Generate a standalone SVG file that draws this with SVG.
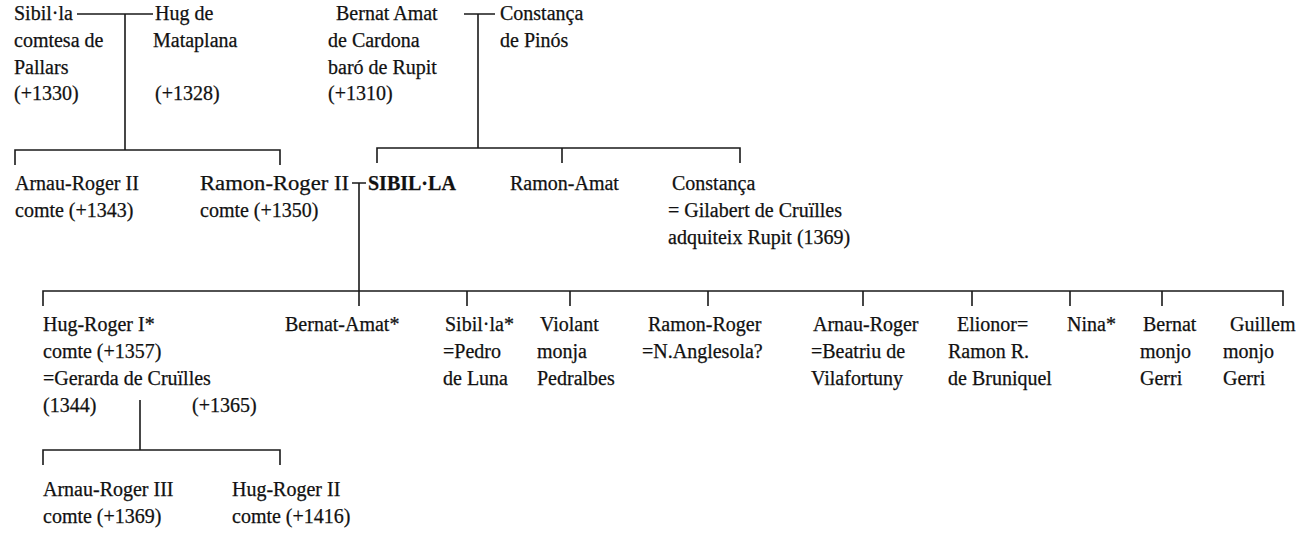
<svg xmlns="http://www.w3.org/2000/svg" width="1307" height="545" viewBox="0 0 1307 545">
<style>
text{font-family:"Liberation Serif","Times New Roman",serif;font-size:20px;fill:#111;stroke:#111;stroke-width:0.25}
.b{font-weight:bold}
.c path{stroke:#1a1a1a;stroke-width:1.6;fill:none}
</style>
<rect width="1307" height="545" fill="#fff"/>
<g class="c" id="connectors">
<path d="M77 14H153M125 14V150M15 165V150H280V165"/>
<path d="M464 14H495M478 14V148M377 163V148H740V163M562 148V163"/>
<path d="M352 183H366M359 183V306M43 306V291H1283V306M467 291V306M570 291V306M708 291V306M863 291V306M972 291V306M1070 291V306M1162 291V306M1283 291V306"/>
<path d="M140 400V450M43 465V450H280V465"/>
</g>
<g id="n-sibilla-pallars"><text x="14" y="20">Sibil·la</text><text x="14" y="47">comtesa de</text><text x="14" y="74">Pallars</text><text x="14" y="100">(+1330)</text></g>
<g id="n-hug"><text x="155" y="20">Hug de</text><text x="153" y="47">Mataplana</text><text x="155" y="100">(+1328)</text></g>
<g id="n-bernat-amat"><text x="336" y="20">Bernat Amat</text><text x="328" y="47">de Cardona</text><text x="328" y="74">baró de Rupit</text><text x="328" y="100">(+1310)</text></g>
<g id="n-constanca-pinos"><text x="500" y="20">Constança</text><text x="500" y="47">de Pinós</text></g>
<g id="n-arnau-roger-ii"><text x="15" y="190">Arnau-Roger II</text><text x="15" y="217">comte (+1343)</text></g>
<g id="n-ramon-roger-ii"><text x="200" y="190" textLength="149" lengthAdjust="spacingAndGlyphs">Ramon-Roger II</text><text x="200" y="217">comte (+1350)</text></g>
<g id="n-sibilla"><text class="b" x="368" y="190">SIBIL·LA</text></g>
<g id="n-ramon-amat"><text x="510" y="190">Ramon-Amat</text></g>
<g id="n-constanca"><text x="672" y="190">Constança</text><text x="668" y="217">= Gilabert de Cruïlles</text><text x="668" y="244">adquiteix Rupit (1369)</text></g>
<g id="n-hug-roger-i"><text x="43" y="331">Hug-Roger I*</text><text x="43" y="358">comte (+1357)</text><text x="43" y="385">=Gerarda de Cruïlles</text><text x="43" y="412">(1344)</text><text x="192" y="412">(+1365)</text></g>
<g id="n-bernat-amat-2"><text x="285" y="331">Bernat-Amat*</text></g>
<g id="n-sibilla-2"><text x="445" y="331">Sibil·la*</text><text x="443" y="358">=Pedro</text><text x="443" y="385">de Luna</text></g>
<g id="n-violant"><text x="540" y="331">Violant</text><text x="537" y="358">monja</text><text x="537" y="385">Pedralbes</text></g>
<g id="n-ramon-roger"><text x="648" y="331">Ramon-Roger</text><text x="642" y="358">=N.Anglesola?</text></g>
<g id="n-arnau-roger"><text x="813" y="331">Arnau-Roger</text><text x="811" y="358">=Beatriu de</text><text x="811" y="385">Vilafortuny</text></g>
<g id="n-elionor"><text x="957" y="331">Elionor=</text><text x="948" y="358">Ramon R.</text><text x="948" y="385">de Bruniquel</text></g>
<g id="n-nina"><text x="1067" y="331">Nina*</text></g>
<g id="n-bernat"><text x="1143" y="331">Bernat</text><text x="1140" y="358">monjo</text><text x="1140" y="385">Gerri</text></g>
<g id="n-guillem"><text x="1230" y="331">Guillem</text><text x="1223" y="358">monjo</text><text x="1223" y="385">Gerri</text></g>
<g id="n-arnau-roger-iii"><text x="43" y="496">Arnau-Roger III</text><text x="43" y="523">comte (+1369)</text></g>
<g id="n-hug-roger-ii"><text x="232" y="496">Hug-Roger II</text><text x="232" y="523">comte (+1416)</text></g>
</svg>
